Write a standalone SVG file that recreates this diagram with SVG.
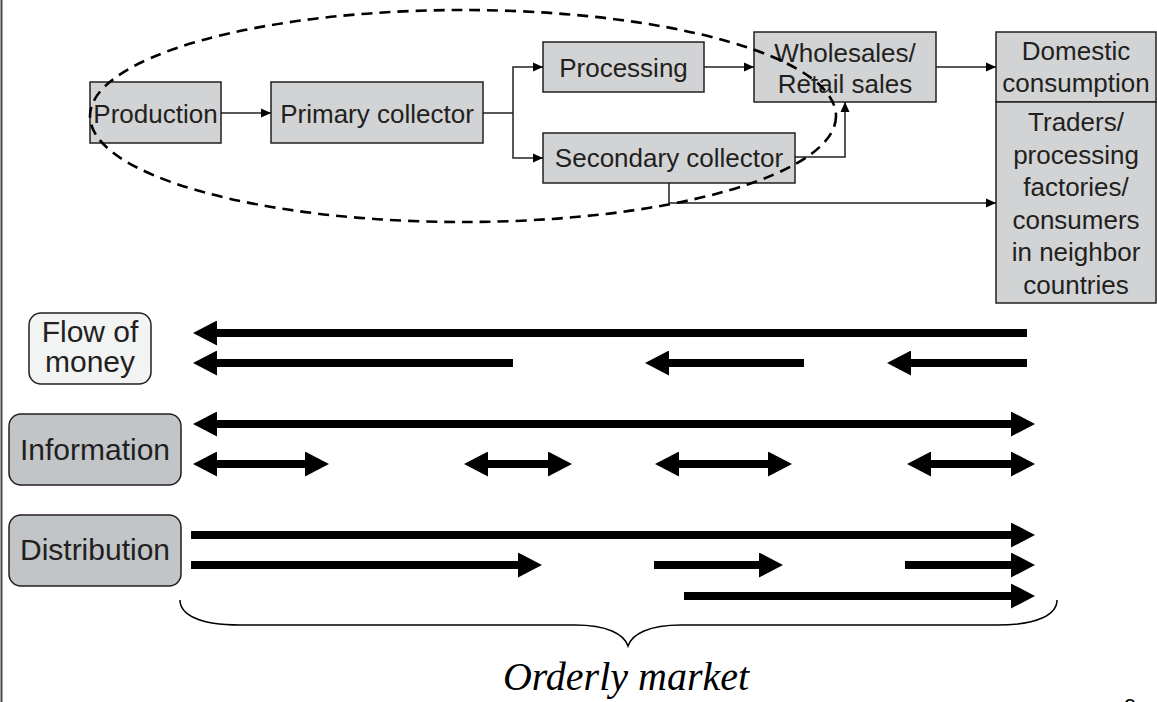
<svg xmlns="http://www.w3.org/2000/svg" width="1157" height="702" viewBox="0 0 1157 702">
  <style>
    .box { fill: #d1d3d4; stroke: #231f20; stroke-width: 1.5; }
    .tag { fill: #c1c5c7; stroke: #231f20; stroke-width: 1.5; }
    .tag-light { fill: #f2f3f3; stroke: #231f20; stroke-width: 1.5; }
    .lbl { font-family: "Liberation Sans", Arial, sans-serif; font-size: 26px; fill: #231f20; text-anchor: middle; }
    .lbl-big { font-family: "Liberation Sans", Arial, sans-serif; font-size: 30px; fill: #231f20; text-anchor: middle; }
    .wire { fill: none; stroke: #231f20; stroke-width: 1.5; }
    .flow { fill: none; stroke: #000; stroke-width: 8; }
    .ring { fill: none; stroke: #000; stroke-width: 2.6; stroke-dasharray: 11 7; }
  </style>
  <defs>
    <marker id="tip" viewBox="0 -5 10 10" markerWidth="10" markerHeight="10" refX="10" refY="0" orient="auto" markerUnits="userSpaceOnUse">
      <path d="M0,-4.5 L10,0 L0,4.5 z" fill="#000"/>
    </marker>
    <marker id="head" viewBox="0 -12.5 24 25" markerWidth="24" markerHeight="25" refX="1" refY="0" orient="auto-start-reverse" markerUnits="userSpaceOnUse">
      <path d="M0,-12.5 L24,0 L0,12.5 z" fill="#000"/>
    </marker>
  </defs>

  <rect width="1157" height="702" fill="#fff"/>
  <!-- page edge -->
  <line x1="1.5" y1="0" x2="1.5" y2="702" stroke="#444" stroke-width="2"/>

  <!-- supply chain nodes -->
  <g id="production">
    <rect class="box" x="90" y="82" width="131" height="61"/>
    <text class="lbl" x="155.5" y="123">Production</text>
  </g>
  <g id="primary-collector">
    <rect class="box" x="271" y="82" width="212" height="61"/>
    <text class="lbl" x="377" y="123">Primary collector</text>
  </g>
  <g id="processing">
    <rect class="box" x="543" y="42" width="161" height="50"/>
    <text class="lbl" x="623.5" y="77">Processing</text>
  </g>
  <g id="secondary-collector">
    <rect class="box" x="543" y="133" width="252" height="50"/>
    <text class="lbl" x="669" y="167">Secondary collector</text>
  </g>
  <g id="wholesale-retail">
    <rect class="box" x="754" y="32" width="182" height="70"/>
    <text class="lbl" x="845" y="62">Wholesales/</text>
    <text class="lbl" x="845" y="93">Retail sales</text>
  </g>
  <g id="domestic">
    <rect class="box" x="996" y="32" width="160" height="70"/>
    <text class="lbl" x="1076" y="60">Domestic</text>
    <text class="lbl" x="1076" y="92">consumption</text>
  </g>
  <g id="neighbor-countries">
    <rect class="box" x="996" y="102" width="160" height="201"/>
    <text class="lbl" x="1076" y="131">Traders/</text>
    <text class="lbl" x="1076" y="163.5">processing</text>
    <text class="lbl" x="1076" y="196">factories/</text>
    <text class="lbl" x="1076" y="228.5">consumers</text>
    <text class="lbl" x="1076" y="261">in neighbor</text>
    <text class="lbl" x="1076" y="293.5">countries</text>
  </g>

  <!-- supply chain connectors -->
  <g id="connectors">
    <line class="wire" x1="221" y1="113" x2="271" y2="113" marker-end="url(#tip)"/>
    <polyline class="wire" points="483,113 513,113"/>
    <polyline class="wire" points="513,113 513,67 543,67" marker-end="url(#tip)"/>
    <polyline class="wire" points="513,113 513,158 543,158" marker-end="url(#tip)"/>
    <line class="wire" x1="704" y1="67" x2="754" y2="67" marker-end="url(#tip)"/>
    <polyline class="wire" points="795,157 845,157 845,102" marker-end="url(#tip)"/>
    <line class="wire" x1="936" y1="67" x2="996" y2="67" marker-end="url(#tip)"/>
    <polyline class="wire" points="669,183 669,203 996,203" marker-end="url(#tip)"/>
  </g>

  <!-- domestic market boundary -->
  <g id="boundary">
    <ellipse class="ring" cx="463" cy="116" rx="373" ry="106"/>
  </g>

  <!-- row labels -->
  <g id="flow-of-money">
    <rect class="tag-light" x="29" y="313" width="122" height="71" rx="12"/>
    <text class="lbl-big" x="90" y="342">Flow of</text>
    <text class="lbl-big" x="90" y="372">money</text>
  </g>
  <g id="information">
    <rect class="tag" x="9" y="414" width="172" height="71" rx="12"/>
    <text class="lbl-big" x="95" y="460">Information</text>
  </g>
  <g id="distribution">
    <rect class="tag" x="9" y="515" width="172" height="71" rx="12"/>
    <text class="lbl-big" x="95" y="560">Distribution</text>
  </g>

  <!-- money, information and goods flows -->
  <g id="flows">
    <line class="flow" x1="216" y1="333" x2="1027" y2="333" marker-start="url(#head)"/>
    <line class="flow" x1="216" y1="363" x2="513" y2="363" marker-start="url(#head)"/>
    <line class="flow" x1="668" y1="363" x2="804" y2="363" marker-start="url(#head)"/>
    <line class="flow" x1="910" y1="363" x2="1027" y2="363" marker-start="url(#head)"/>

    <line class="flow" x1="216" y1="424" x2="1012" y2="424" marker-start="url(#head)" marker-end="url(#head)"/>
    <line class="flow" x1="216" y1="464" x2="306" y2="464" marker-start="url(#head)" marker-end="url(#head)"/>
    <line class="flow" x1="487" y1="464" x2="549" y2="464" marker-start="url(#head)" marker-end="url(#head)"/>
    <line class="flow" x1="678" y1="464" x2="769" y2="464" marker-start="url(#head)" marker-end="url(#head)"/>
    <line class="flow" x1="930" y1="464" x2="1012" y2="464" marker-start="url(#head)" marker-end="url(#head)"/>

    <line class="flow" x1="191" y1="535" x2="1012" y2="535" marker-end="url(#head)"/>
    <line class="flow" x1="191" y1="565" x2="519" y2="565" marker-end="url(#head)"/>
    <line class="flow" x1="654" y1="565" x2="760" y2="565" marker-end="url(#head)"/>
    <line class="flow" x1="905" y1="565" x2="1012" y2="565" marker-end="url(#head)"/>
    <line class="flow" x1="684" y1="596" x2="1012" y2="596" marker-end="url(#head)"/>
  </g>

  <!-- brace and caption -->
  <path d="M180,600 C180,614 198,625 240,625 L575,625 C607,625 624,634 628,646 C632,634 649,625 681,625 L997,625 C1039,625 1057,614 1057,600" fill="none" stroke="#000" stroke-width="1.5"/>
  <text x="626" y="690" font-family="'Liberation Serif', 'Times New Roman', serif" font-style="italic" font-size="40" fill="#000" text-anchor="middle">Orderly market</text>
  <text x="1130" y="714" font-family="'Liberation Sans', Arial, sans-serif" font-size="22" fill="#000" text-anchor="middle">9</text>
</svg>
